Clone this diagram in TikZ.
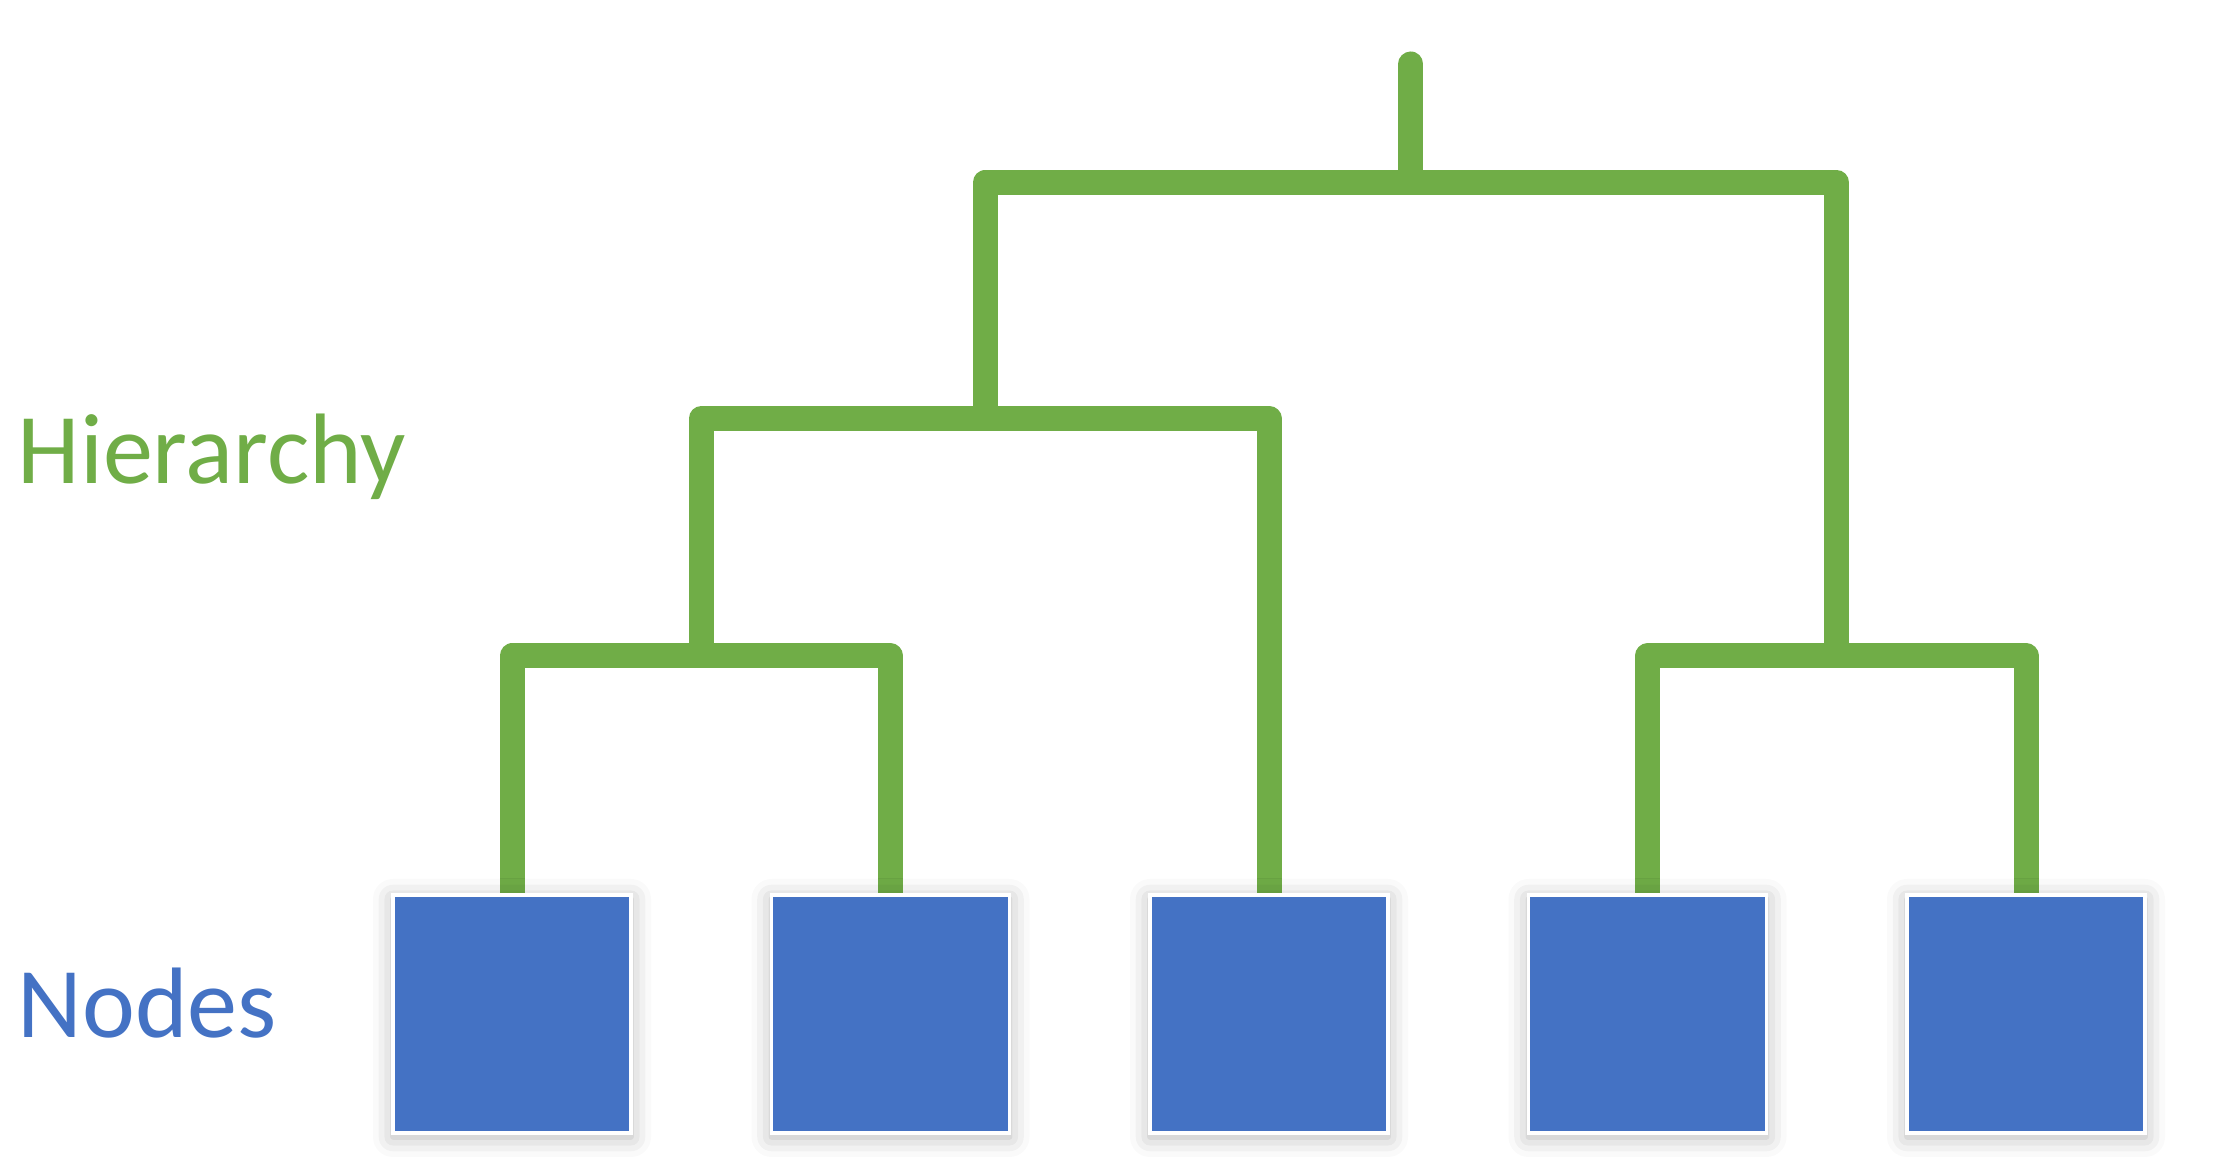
\documentclass[tikz,border=0pt]{standalone}
\usepackage{fontspec}
\setmainfont{Carlito}
\usetikzlibrary{shadows.blur}

\definecolor{treegreen}{HTML}{70AD47}
\definecolor{nodeblue}{HTML}{4472C4}

\tikzset{
    leafbox/.style={fill=nodeblue, draw=white, line width=0.9pt, minimum size=2.38cm, inner sep=0pt,
        blur shadow={shadow xshift=0mm, shadow yshift=-0.4mm, shadow blur radius=2mm, shadow opacity=30}},
    branch/.style={draw=treegreen, line width=0.25cm, line join=round},
    tag/.style={anchor=base west, inner sep=0pt, font=\fontsize{28.5}{34}\selectfont}
}

\begin{document}
\begin{tikzpicture}
    \useasboundingbox (0,0) rectangle (22.25,11.75);
    % labels on the left
    \node[tag, text=treegreen] (hier) at (0.17,6.91) {Hierarchy};
    \node[tag, text=nodeblue] (leaves) at (0.17,1.375) {Nodes};
    % joins of the tree
    \coordinate (j1) at (7.0125,5.19);
    \coordinate (j2) at (18.3675,5.19);
    \coordinate (j3) at (9.851,7.565);
    \coordinate (j4) at (14.109,9.925);
    \coordinate (root) at (14.109,11.11);
    % leaf positions
    \coordinate (p1) at (5.12,1.61);
    \coordinate (p2) at (8.905,1.61);
    \coordinate (p3) at (12.69,1.61);
    \coordinate (p4) at (16.475,1.61);
    \coordinate (p5) at (20.26,1.61);
    % branches first, boxes on top
    \path (p1) ++(0,1.2) coordinate (t1) (p2) ++(0,1.2) coordinate (t2)
        (p3) ++(0,1.2) coordinate (t3) (p4) ++(0,1.2) coordinate (t4) (p5) ++(0,1.2) coordinate (t5);
    \draw[branch] (t1) |- (j1) -| (t2);
    \draw[branch] (t4) |- (j2) -| (t5);
    \draw[branch] (j1) |- (j3) -| (t3);
    \draw[branch] (j3) |- (j4) -| (j2);
    \draw[branch, line cap=round] (j4) -- (root);
    \node[leafbox] (n1) at (p1) {};
    \node[leafbox] (n2) at (p2) {};
    \node[leafbox] (n3) at (p3) {};
    \node[leafbox] (n4) at (p4) {};
    \node[leafbox] (n5) at (p5) {};
\end{tikzpicture}
\end{document}
